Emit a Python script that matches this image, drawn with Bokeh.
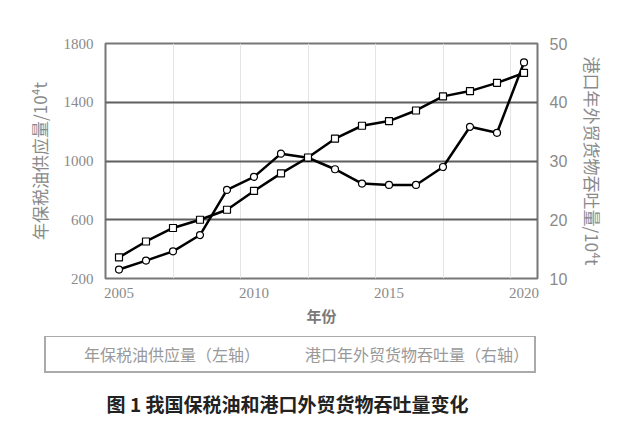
from bokeh.plotting import figure
from bokeh.layouts import column
from bokeh.models import Range1d, LinearAxis, FixedTicker, Legend, LegendItem, Label
from bokeh.embed import file_html
from bokeh.resources import INLINE

years = list(range(2005, 2021))
oil_supply = [261, 322, 385, 496, 803, 892, 1050, 1022, 944, 846, 837, 837, 959, 1233, 1192, 1671]
port_throughput = [13.6, 16.3, 18.6, 20.0, 21.7, 24.9, 27.9, 30.6, 33.8, 36.0, 36.8, 38.6, 41.0, 41.9, 43.3, 45.0]
left_ticks = [200, 600, 1000, 1400, 1800]
right_ticks = [10, 20, 30, 40, 50]
x_ticks = [2005, 2010, 2015, 2020]
x_minor_grid = [2007, 2009.5, 2012, 2014.5, 2017, 2019.5]
series_names = ["年保税油供应量（左轴）", "港口年外贸货物吞吐量（右轴）"]
left_title = "年保税油供应量/10⁴t"
right_title = "港口年外贸货物吞吐量/10⁴t"
caption = "图 1 我国保税油和港口外贸货物吞吐量变化"

CJK = "Noto Sans CJK SC"
GRAY = "#8a8a8a"
W = 617

p = figure(frame_width=432, frame_height=235, output_backend="svg", toolbar_location=None,
           x_range=Range1d(2004.5, 2020.5), y_range=Range1d(200, 1800),
           min_border_left=105, min_border_right=80, min_border_top=43, min_border_bottom=58)
p.frame_align = False
p.extra_y_ranges = {"right": Range1d(10, 50)}

p.outline_line_color = "#777777"
p.outline_line_width = 2

# grids
p.ygrid.ticker = FixedTicker(ticks=left_ticks)
p.ygrid.grid_line_color = "#5f5f5f"
p.ygrid.grid_line_width = 2
p.xgrid.ticker = FixedTicker(ticks=x_minor_grid)
p.xgrid.grid_line_color = "#e4e4e4"
p.xgrid.grid_line_width = 1


def plain(ax):
    ax.axis_line_color = None
    ax.major_tick_line_color = None
    ax.minor_tick_line_color = None
    ax.major_tick_out = 0
    ax.minor_tick_out = 0


# x axis
xa = p.xaxis[0]
xa.ticker = FixedTicker(ticks=x_ticks)
plain(xa)
xa.major_label_text_font = "Liberation Serif"
xa.major_label_text_font_size = "15px"
xa.major_label_text_color = GRAY
xa.major_label_standoff = 9
xa.axis_label = "年份"
xa.axis_label_text_font = CJK
xa.axis_label_text_font_size = "15px"
xa.axis_label_text_font_style = "bold"
xa.axis_label_text_color = "#7a7a7a"
xa.axis_label_standoff = 4

# left axis
ya = p.yaxis[0]
ya.ticker = FixedTicker(ticks=left_ticks)
plain(ya)
ya.major_label_text_font = "Liberation Serif"
ya.major_label_text_font_size = "15px"
ya.major_label_text_color = GRAY
ya.major_label_standoff = 12
ya.axis_label = left_title
ya.axis_label_text_font = CJK
ya.axis_label_text_font_size = "17px"
ya.axis_label_text_font_style = "normal"
ya.axis_label_text_color = GRAY
ya.axis_label_standoff = 9

# right axis
ra = LinearAxis(y_range_name="right", ticker=FixedTicker(ticks=right_ticks))
plain(ra)
ra.major_label_text_font = "Liberation Sans"
ra.major_label_text_font_size = "16px"
ra.major_label_text_color = GRAY
ra.major_label_standoff = 12
ra.axis_label = right_title
ra.axis_label_text_font = CJK
ra.axis_label_text_font_size = "17px"
ra.axis_label_text_font_style = "normal"
ra.axis_label_text_color = GRAY
ra.axis_label_standoff = 10
ra.axis_label_orientation = "vertical"
p.add_layout(ra, "right")

# series
p.line(years, oil_supply, line_color="black", line_width=2.5)
p.scatter(years, oil_supply, marker="circle", size=7, fill_color="white",
          line_color="black", line_width=1.2)
p.line(years, port_throughput, y_range_name="right", line_color="black", line_width=2.5)
p.scatter(years, port_throughput, y_range_name="right", marker="square", size=7,
          fill_color="white", line_color="black", line_width=1.2)

# bottom strip: legend + caption
q = figure(width=W, height=84, output_backend="svg", toolbar_location=None,
           x_range=Range1d(0, 1), y_range=Range1d(0, 1),
           x_axis_location=None, y_axis_location=None, min_border=0)
q.frame_align = False
q.outline_line_color = None
q.grid.visible = False
ql1 = q.line(x=[], y=[], line_color="black", line_width=2.5)
qs1 = q.scatter(x=[], y=[], marker="circle", size=7, fill_color="white",
                line_color="black", line_width=1.2)
ql2 = q.line(x=[], y=[], line_color="black", line_width=2.5)
qs2 = q.scatter(x=[], y=[], marker="square", size=7, fill_color="white",
                line_color="black", line_width=1.2)

legend = Legend(items=[
    LegendItem(label=series_names[0], renderers=[ql1, qs1]),
    LegendItem(label=series_names[1], renderers=[ql2, qs2]),
], orientation="horizontal", location=(44, 47))
legend.label_text_font = CJK
legend.label_text_font_size = "16px"
legend.label_text_color = "#999999"
legend.border_line_color = "#555555"
legend.border_line_width = 2
legend.glyph_width = 30
legend.glyph_height = 18
legend.label_standoff = 3
legend.spacing = 12
legend.padding = 5
legend.margin = 0
legend.background_fill_color = "white"
q.add_layout(legend, "center")

cap = Label(x=287, y=17, x_units="screen", y_units="screen", text=caption,
            text_align="center", text_baseline="middle", text_font=CJK,
            text_font_size="19px", text_font_style="bold", text_color="#222222")
q.add_layout(cap)

open("out.html", "w").write(file_html(column(p, q, spacing=0), INLINE))
